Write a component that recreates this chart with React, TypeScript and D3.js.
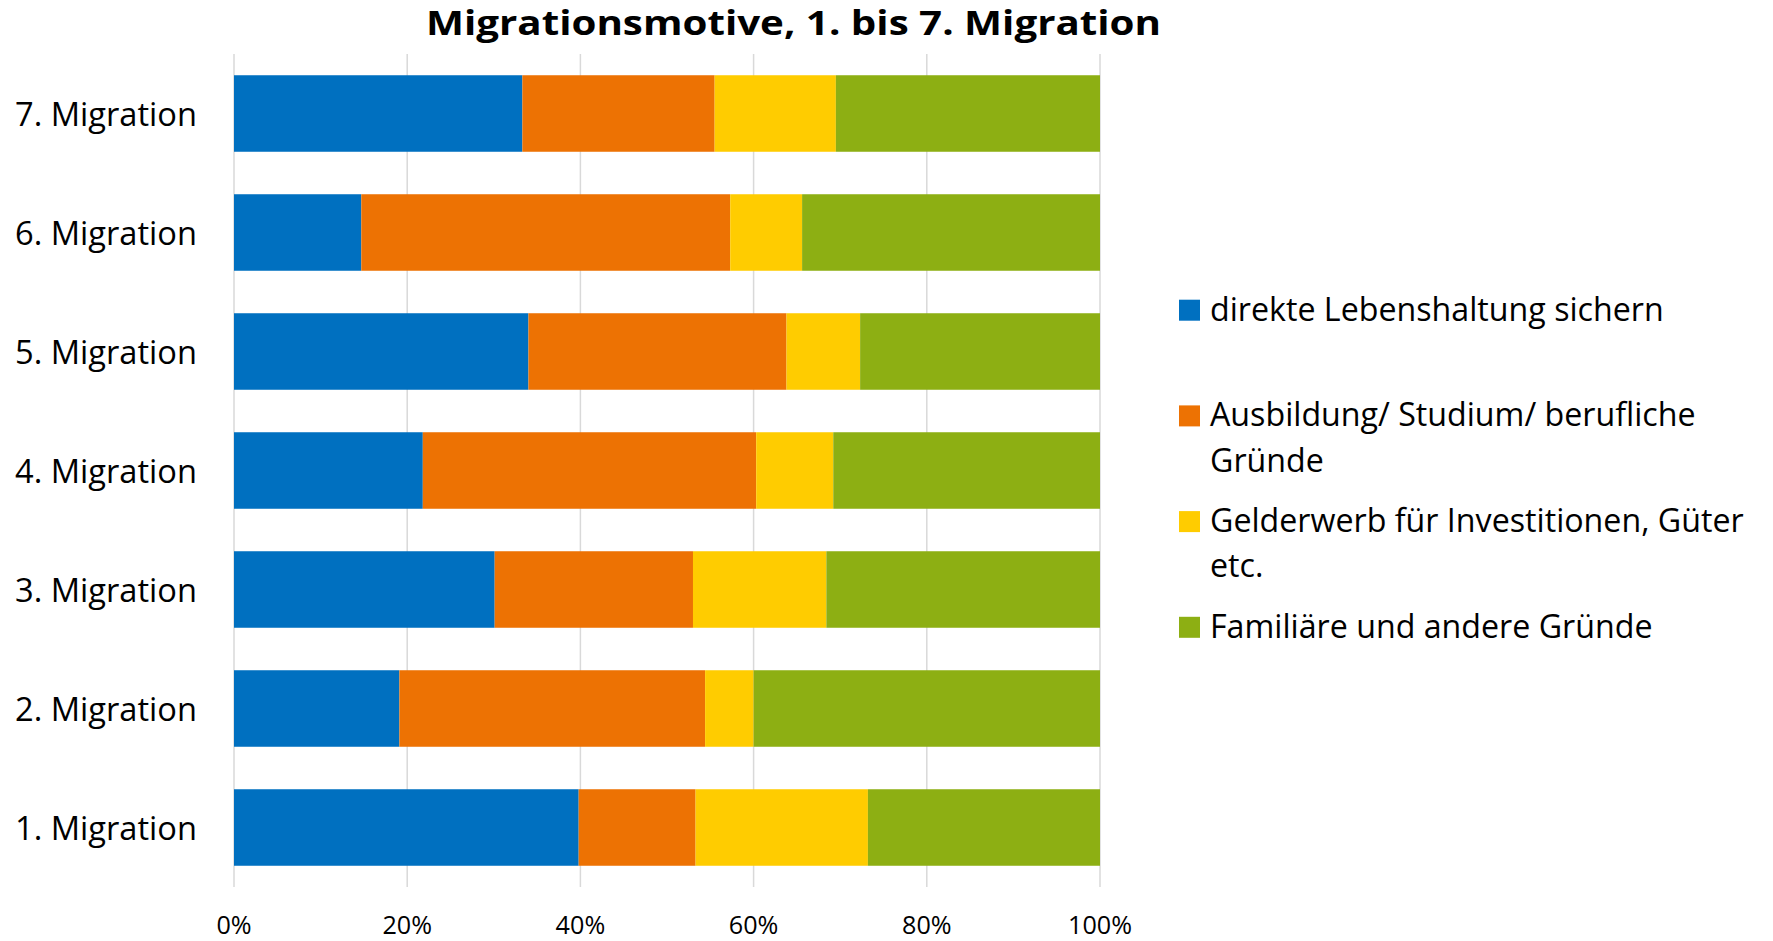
import React from "react";
import * as d3 from "d3";

const categories = ["1. Migration", "2. Migration", "3. Migration", "4. Migration", "5. Migration", "6. Migration", "7. Migration"];
const seriesNames = [
  "direkte Lebenshaltung sichern",
  "Ausbildung/ Studium/ berufliche Gründe",
  "Gelderwerb für Investitionen, Güter etc.",
  "Familiäre und andere Gründe",
];
const direkte = [39.8, 19.1, 30.1, 21.8, 34.0, 14.7, 33.3];
const ausbildung = [13.5, 35.3, 22.9, 38.5, 29.8, 42.6, 22.2];
const gelderwerb = [19.9, 5.6, 15.4, 8.9, 8.5, 8.3, 14.0];
const familiaer = [26.8, 40.0, 31.6, 30.8, 27.7, 34.4, 30.5];
const xTicks = [0, 0.2, 0.4, 0.6, 0.8, 1];
const titleText = "Migrationsmotive, 1. bis 7. Migration";
const colors = ["#0070C0", "#ED7203", "#FFCC00", "#8DAF13"];

const W = 1773;
const H = 941;
const FONT = "'Open Sans', sans-serif";

let ctx: CanvasRenderingContext2D | null = null;
function measure(text: string, size: number, weight = 400): number {
  if (!ctx) ctx = document.createElement("canvas").getContext("2d");
  ctx!.font = `${weight} ${size}px ${FONT}`;
  return ctx!.measureText(text).width;
}
function fitSize(text: string, target: number, weight = 400): number {
  return (100 * target) / measure(text, 100, weight);
}
function wrapText(text: string, size: number, maxWidth: number): string[] {
  const words = text.split(" ");
  const lines: string[] = [];
  let cur = "";
  for (const w of words) {
    const test = cur ? cur + " " + w : w;
    if (measure(test, size) > maxWidth && cur) {
      lines.push(cur);
      cur = w;
    } else cur = test;
  }
  if (cur) lines.push(cur);
  return lines;
}

export default function App() {
  const rows = categories.map((c, i) => ({
    cat: c,
    s0: direkte[i],
    s1: ausbildung[i],
    s2: gelderwerb[i],
    s3: familiaer[i],
  }));
  const keys = ["s0", "s1", "s2", "s3"];
  const stacked = d3.stack<any>().keys(keys).offset(d3.stackOffsetExpand)(rows);

  const x = d3.scaleLinear().domain([0, 1]).range([234, 1100]);
  const y = d3
    .scaleBand<string>()
    .domain([...categories].reverse())
    .range([54, 887])
    .paddingInner(0.357)
    .paddingOuter(0.1785);

  const titleSize = 34;
  const catSize = Math.min(38, fitSize(categories[6], 182));
  const tickSize = Math.min(30, fitSize("100%", 64));
  const legendSize = Math.min(36, fitSize(seriesNames[0], 454));

  const legendX = 1179;
  const legendTextX = 1210;
  const legendBase0 = 320.7;
  const legendStep = 105.7;
  const lineH = 45.3;

  return (
    <svg width={W} height={H} style={{ position: "absolute", left: 0, top: 0, background: "#fff" }}>
      <rect x={0} y={0} width={W} height={H} fill="#fff" />
      <text
        x={793.5}
        y={35}
        textAnchor="middle"
        fontFamily={FONT}
        fontWeight={700}
        fontSize={titleSize}
        textLength={735}
        lengthAdjust="spacingAndGlyphs"
        fill="#000"
      >
        {titleText}
      </text>
      {xTicks.map((t) => (
        <g key={t}>
          <line x1={x(t)} x2={x(t)} y1={54} y2={887} stroke="#D9D9D9" strokeWidth={1.5} />
          <text x={x(t)} y={934} textAnchor="middle" fontFamily={FONT} fontSize={tickSize} fill="#000">
            {d3.format(".0%")(t)}
          </text>
        </g>
      ))}
      {stacked.map((layer, si) => (
        <g key={si} fill={colors[si]}>
          {layer.map((d: any, i: number) => (
            <rect
              key={i}
              x={x(d[0])}
              width={x(d[1]) - x(d[0])}
              y={y(d.data.cat)!}
              height={y.bandwidth()}
            />
          ))}
        </g>
      ))}
      {categories.map((c) => (
        <text
          key={c}
          x={197}
          y={y(c)! + y.bandwidth() / 2 + 12}
          textAnchor="end"
          fontFamily={FONT}
          fontSize={catSize}
          fill="#000"
        >
          {c}
        </text>
      ))}
      {seriesNames.map((name, i) => {
        const base = legendBase0 + i * legendStep;
        const lines = wrapText(name, legendSize, 560);
        return (
          <g key={name}>
            <rect x={legendX} y={base - 21} width={21} height={21} fill={colors[i]} />
            {lines.map((ln, j) => (
              <text key={j} x={legendTextX} y={base + j * lineH} fontFamily={FONT} fontSize={legendSize} fill="#000">
                {ln}
              </text>
            ))}
          </g>
        );
      })}
    </svg>
  );
}
